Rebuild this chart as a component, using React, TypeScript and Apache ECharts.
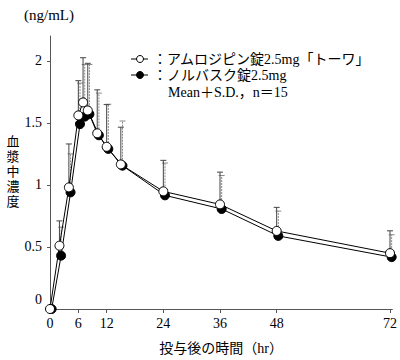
import React, { useEffect, useRef } from "react";
import * as echarts from "echarts";

const times = [0, 2, 4, 6, 7, 8, 10, 12, 15, 24, 36, 48, 72];
const towaMean = [0, 0.51, 0.98, 1.56, 1.665, 1.6, 1.416, 1.307, 1.165, 0.948, 0.843, 0.629, 0.45];
const towaSD = [0, 0.2, 0.35, 0.28, 0.36, 0.38, 0.35, 0.34, 0.3, 0.25, 0.26, 0.19, 0.18];
const norvascMean = [0, 0.43, 0.94, 1.49, 1.55, 1.57, 1.4, 1.29, 1.155, 0.916, 0.806, 0.589, 0.418];
const norvascSD = [0, 0.23, 0.31, 0.33, 0.42, 0.4, 0.34, 0.36, 0.36, 0.26, 0.27, 0.2, 0.18];
const xTicks = [0, 6, 12, 24, 36, 48, 72];
const yTicks = [0, 0.5, 1, 1.5, 2];
const legendNames = ["：アムロジピン錠2.5mg「トーワ」", "：ノルバスク錠2.5mg"];
const noteText = "Mean＋S.D.，n＝15";
const yName = ["血", "漿", "中", "濃", "度"];

const FONT = '"Liberation Serif", "Noto Sans CJK JP", serif';
const SHIFT = 0.35; // small visual horizontal offset of the second series

export default function App() {
  const ref = useRef<HTMLDivElement>(null);
  useEffect(() => {
    document.body.style.margin = "0";
    const chart = echarts.init(ref.current!, null, { renderer: "svg" });

    const towaData = times.map((t, i) => [t, towaMean[i], towaSD[i]]);
    const norData = times.map((t, i) => [t + SHIFT, norvascMean[i], norvascSD[i]]);

    const errRender = (dashed: boolean) => (params: any, api: any) => {
      const x = api.value(0);
      const m = api.value(1);
      const sd = api.value(2);
      if (!sd) return null;
      const p0 = api.coord([x, m]);
      const p1 = api.coord([x, m + sd]);
      const color = dashed ? "#8a8a8a" : "#444";
      const style = dashed
        ? { stroke: color, lineWidth: 1, lineDash: [2, 1] }
        : { stroke: color, lineWidth: 1 };
      return {
        type: "group",
        children: [
          { type: "line", shape: { x1: p0[0], y1: p0[1], x2: p1[0], y2: p1[1] }, style },
          { type: "line", shape: { x1: p1[0] - 3, y1: p1[1], x2: p1[0] + 3, y2: p1[1] }, style: { stroke: color, lineWidth: 1 } },
        ],
      };
    };

    const yNameGraphics = yName.map((ch, i) => ({
      type: "text",
      x: 13,
      y: 141 + i * 15,
      style: { text: ch, font: `13px ${FONT}`, fill: "#000", align: "center", verticalAlign: "middle" },
    }));

    const option: any = {
      animation: false,
      textStyle: { fontFamily: FONT },
      grid: { left: 50, top: 36, width: 345, height: 274 },
      xAxis: {
        type: "value",
        min: 0,
        max: 72.5,
        name: "投与後の時間（hr）",
        nameLocation: "middle",
        nameGap: 32,
        nameTextStyle: { fontFamily: FONT, fontSize: 14, color: "#000" },
        axisLine: { lineStyle: { color: "#555", width: 1 } },
        axisTick: { customValues: xTicks, length: 4, lineStyle: { color: "#555" } },
        axisLabel: { customValues: xTicks, fontFamily: FONT, fontSize: 14, color: "#000", margin: 7 },
        splitLine: { show: false },
      },
      yAxis: {
        type: "value",
        min: 0,
        max: 2.2,
        axisLine: { show: true, lineStyle: { color: "#555", width: 1 } },
        axisTick: { show: true, customValues: yTicks, length: 3, lineStyle: { color: "#555" } },
        axisLabel: {
          customValues: yTicks,
          fontFamily: FONT,
          fontSize: 14,
          color: "#000",
          margin: 8,
          formatter: (v: number) => (v === 0 ? "{z|0}" : String(v)),
          rich: { z: { fontFamily: FONT, fontSize: 14, color: "#000", padding: [0, 0, 20, 0] } },
        },
        splitLine: { show: false },
      },
      graphic: [
        { type: "text", left: 24, top: 7, style: { text: "(ng/mL)", font: `15px ${FONT}`, fill: "#000" } },
        ...yNameGraphics,
        { type: "line", shape: { x1: 131, y1: 59, x2: 148, y2: 59 }, style: { stroke: "#000", lineWidth: 1 } },
        { type: "circle", shape: { cx: 140, cy: 59, r: 3.5 }, style: { fill: "#fff", stroke: "#000", lineWidth: 1 } },
        { type: "line", shape: { x1: 131, y1: 75, x2: 148, y2: 75 }, style: { stroke: "#000", lineWidth: 1 } },
        { type: "circle", shape: { cx: 140, cy: 75, r: 3.5 }, style: { fill: "#000", stroke: "#000", lineWidth: 1 } },
        { type: "text", x: 153, y: 59, style: { text: legendNames[0], font: `14px ${FONT}`, fill: "#000", verticalAlign: "middle" } },
        { type: "text", x: 153, y: 75, style: { text: legendNames[1], font: `14px ${FONT}`, fill: "#000", verticalAlign: "middle" } },
        { type: "text", x: 168, y: 92, style: { text: noteText, font: `14px ${FONT}`, fill: "#000", verticalAlign: "middle" } },
      ],
      series: [
        { type: "custom", renderItem: errRender(true), data: norData, z: 1, silent: true },
        { type: "custom", renderItem: errRender(false), data: towaData, z: 1, silent: true },
        {
          type: "line",
          data: norData.map((d) => [d[0], d[1]]),
          symbol: "circle",
          symbolSize: 9,
          lineStyle: { color: "#000", width: 1 },
          itemStyle: { color: "#000", borderColor: "#000", borderWidth: 1 },
          z: 3,
        },
        {
          type: "line",
          data: towaData.map((d) => [d[0], d[1]]),
          symbol: "circle",
          symbolSize: 9,
          lineStyle: { color: "#000", width: 1 },
          itemStyle: { color: "#fff", borderColor: "#000", borderWidth: 1 },
          z: 4,
        },
      ],
    };
    chart.setOption(option);
    return () => chart.dispose();
  }, []);
  return <div ref={ref} style={{ width: 400, height: 360 }} />;
}
